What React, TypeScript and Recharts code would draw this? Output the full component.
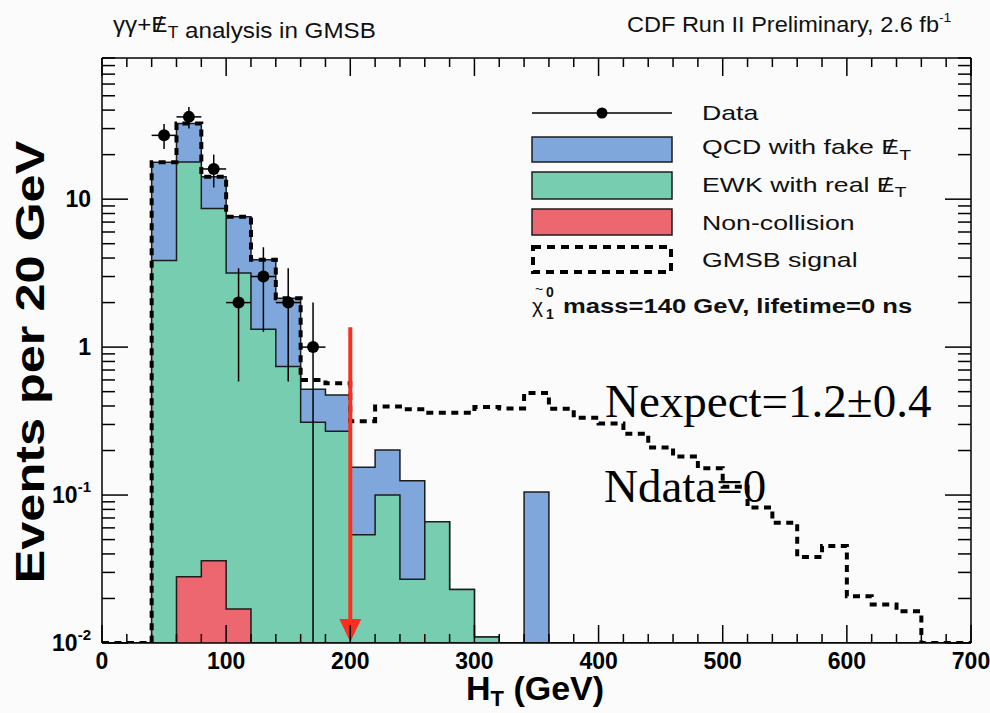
import React from 'react';
import {
  ComposedChart, Area, Line, Scatter, XAxis, YAxis, ErrorBar,
  ReferenceLine, ReferenceDot,
} from 'recharts';

const FONT = '"Liberation Sans", Arial, Helvetica, sans-serif';
const SERIF = '"Liberation Serif", "Times New Roman", serif';

const BLUE = '#7fa7dc';
const GREEN = '#77cdb0';
const RED = '#ed6770';
const ARROW = '#fe2d1e';
const EDGE = '#1c1c1c';

const YMIN = 0.01;
const YMAX = 90;
const BIN_WIDTH = 20;

// low edges of the 20 GeV bins in H_T
const BIN_LOW = [
  0, 20, 40, 60, 80, 100, 120, 140, 160, 180, 200, 220, 240, 260, 280, 300, 320, 340,
  360, 380, 400, 420, 440, 460, 480, 500, 520, 540, 560, 580, 600, 620, 640, 660, 680,
];

// background components (events per bin)
const NONCOLL = [
  0, 0, 0, 0.028, 0.036, 0.017, 0, 0, 0, 0, 0, 0, 0, 0, 0, 0, 0, 0,
  0, 0, 0, 0, 0, 0, 0, 0, 0, 0, 0, 0, 0, 0, 0, 0, 0,
];
const EWK = [
  0, 0, 3.85, 17.8, 8.6, 3.15, 1.32, 0.74, 0.31, 0.27, 0.054, 0.1, 0.027, 0.066, 0.023, 0.011, 0, 0,
  0, 0, 0, 0, 0, 0, 0, 0, 0, 0, 0, 0, 0, 0, 0, 0, 0,
];
const QCD = [
  0, 0, 13.95, 14.7, 5.55, 4.43, 2.58, 1.4, 0.21, 0.205, 0.1, 0.102, 0.098, 0, 0, 0, 0, 0.105,
  0, 0, 0, 0, 0, 0, 0, 0, 0, 0, 0, 0, 0, 0, 0, 0, 0,
];
// GMSB signal drawn on top of the background (dashed histogram)
const SIGNAL_TOTAL = [
  0, 0, 17.8, 32.5, 14.2, 7.6, 3.9, 2.14, 0.6, 0.57, 0.316, 0.397, 0.38, 0.36, 0.36, 0.394, 0.385, 0.49,
  0.383, 0.333, 0.305, 0.26, 0.21, 0.182, 0.152, 0.114, 0.0824, 0.065, 0.0381, 0.0453, 0.0207, 0.0182, 0.0164, 0, 0,
];

// data points (bin centres, counts)
const DATA_HT = [50, 70, 90, 110, 130, 150, 170];
const DATA_N = [27, 36, 16, 2, 3, 2, 1];

const CUT_HT = 200;
const CUT_TOP = 1.36;

const X_TICKS = Array.from({ length: 36 }, (_, i) => i * 20);
const Y_TICKS: number[] = [];
for (const d of [0.01, 0.1, 1, 10]) for (let m = 1; m <= 9; m++) if (d * m <= YMAX) Y_TICKS.push(+(d * m).toPrecision(3));

const clampY = (v: number) => Math.max(v, YMIN);

const histRows = BIN_LOW.map((x, i) => {
  const nc = NONCOLL[i];
  const ew = nc + EWK[i];
  const qc = ew + QCD[i];
  return { x, nc: clampY(nc), ewk: clampY(ew), qcd: clampY(qc), sig: clampY(SIGNAL_TOTAL[i]) };
});
histRows.push({ ...histRows[histRows.length - 1], x: BIN_LOW[BIN_LOW.length - 1] + BIN_WIDTH });

const dataPts = DATA_HT.map((x, i) => {
  const n = DATA_N[i];
  const e = Math.sqrt(n);
  return { x, n, ex: BIN_WIDTH / 2, ey: [Math.min(e, n - YMIN), e] };
});

const isDecade = (v: number) => Math.abs(Math.log10(v) - Math.round(Math.log10(v))) < 1e-6;

const XTickBottom = (props: any) => {
  const { x, y, payload } = props;
  const v = payload.value;
  const major = v % 100 === 0;
  return (
    <g>
      <line x1={x} x2={x} y1={y} y2={y - (major ? 18 : 9)} stroke="#000" strokeWidth={1.5} />
      {major && (
        <text x={x} y={y + 26} textAnchor="middle" fontFamily={FONT} fontWeight="bold" fontSize={23} fill="#000">
          {v}
        </text>
      )}
    </g>
  );
};

const XTickTop = (props: any) => {
  const { x, y, payload } = props;
  const major = payload.value % 100 === 0;
  return <line x1={x} x2={x} y1={y} y2={y + (major ? 18 : 9)} stroke="#000" strokeWidth={1.5} />;
};

const YTickLeft = (props: any) => {
  const { x, y, payload } = props;
  const v = payload.value;
  const major = isDecade(v);
  const exp = Math.round(Math.log10(v));
  return (
    <g>
      <line x1={x} x2={x + (major ? 26 : 13)} y1={y} y2={y} stroke="#000" strokeWidth={1.5} />
      {major && (
        <text x={x - 11} y={y + 8} textAnchor="end" fontFamily={FONT} fontWeight="bold" fontSize={23} fill="#000">
          {exp === 0 ? '1' : '10'}
          {exp < 0 && <tspan dy={-11} fontSize={15}>{String(exp)}</tspan>}
        </text>
      )}
    </g>
  );
};

const YTickRight = (props: any) => {
  const { x, y, payload } = props;
  const major = isDecade(payload.value);
  return <line x1={x} x2={x - (major ? 26 : 13)} y1={y} y2={y} stroke="#000" strokeWidth={1.5} />;
};

// E with a slash and a T subscript (missing transverse energy)
const MetT = ({ fs }: { fs: number }) => (
  <>
    <tspan>E</tspan>
    <tspan dx={-fs * 0.47}>/</tspan>
    <tspan dx={fs * 0.2} dy={fs * 0.28} fontSize={fs * 0.72}>T</tspan>
    <tspan dy={-fs * 0.28}>{''}</tspan>
  </>
);

const Overlay = () => (
  <svg width={990} height={713} style={{ position: 'absolute', left: 0, top: 0, pointerEvents: 'none' }}>
    {/* titles */}
    <g transform="translate(113,32) scale(1.1,1)">
      <text fontFamily={FONT} fontSize={22} fill="#111">
        γγ+<MetT fs={22} /> analysis in GMSB
      </text>
    </g>
    <g transform="translate(627,32) scale(1.07,1)">
      <text fontFamily={FONT} fontSize={22} fill="#111">
        CDF Run II Preliminary, 2.6 fb<tspan dy={-10} fontSize={13}>-1</tspan>
      </text>
    </g>

    {/* legend */}
    <line x1={532} x2={672} y1={113} y2={113} stroke="#000" strokeWidth={1.5} />
    <circle cx={602} cy={113} r={5.5} fill="#000" />
    <rect x={532} y={137} width={140} height={25} fill={BLUE} stroke={EDGE} strokeWidth={1.5} />
    <rect x={532} y={172} width={140} height={27} fill={GREEN} stroke={EDGE} strokeWidth={1.5} />
    <rect x={532} y={209} width={140} height={26} fill={RED} stroke={EDGE} strokeWidth={1.5} />
    <rect x={533} y={247} width={138} height={25} fill="none" stroke="#000" strokeWidth={4} strokeDasharray="8 6" />
    {[
      { y: 120, t: 'Data' },
      { y: 154, t: 'QCD with fake ', met: true },
      { y: 191.5, t: 'EWK with real ', met: true },
      { y: 229.5, t: 'Non-collision' },
      { y: 266.5, t: 'GMSB signal' },
    ].map((r) => (
      <g key={r.t} transform={`translate(702,${r.y}) scale(1.27,1)`}>
        <text fontFamily={FONT} fontSize={21} fill="#111">
          {r.t}
          {r.met && <MetT fs={21} />}
        </text>
      </g>
    ))}
    <text x={532} y={313} fontFamily={FONT} fontSize={21} fill="#111">χ</text>
    <text x={535} y={294} fontFamily={FONT} fontSize={14} fill="#111">~</text>
    <text x={546} y={297} fontFamily={FONT} fontSize={14} fontWeight="bold" fill="#111">0</text>
    <text x={546} y={319} fontFamily={FONT} fontSize={14} fontWeight="bold" fill="#111">1</text>
    <g transform="translate(563,313) scale(1.22,1)">
      <text fontFamily={FONT} fontSize={21} fontWeight="bold" fill="#111">mass=140 GeV, lifetime=0 ns</text>
    </g>

    {/* annotations */}
    <text x={605} y={417} fontFamily={SERIF} fontSize={47} fill="#000">Nexpect=1.2±0.4</text>
    <text x={604} y={502} fontFamily={SERIF} fontSize={47} fill="#000">Ndata=0</text>

    {/* axis titles */}
    <text x={535} y={700} textAnchor="middle" fontFamily={FONT} fontWeight="bold" fontSize={34} fill="#000">
      H<tspan dy={6} fontSize={22}>T</tspan><tspan dy={-6}> (GeV)</tspan>
    </text>
    <g transform="translate(44,362) rotate(-90) scale(1.26,1)">
      <text textAnchor="middle" fontFamily={FONT} fontWeight="bold" fontSize={40} fill="#000">
        Events per 20 GeV
      </text>
    </g>
  </svg>
);

export default function App() {
  return (
    <div style={{ position: 'absolute', left: 0, top: 0, width: 990, height: 713, background: '#fbfbfb' }}>
      <ComposedChart width={990} height={713} data={histRows} margin={{ top: 57, right: 0, bottom: 0, left: 0 }}>
        <XAxis
          dataKey="x" type="number" domain={[0, 700]} ticks={X_TICKS} interval={0}
          height={70} tickSize={0} tickMargin={0} tick={<XTickBottom />}
          axisLine={{ stroke: '#000', strokeWidth: 1.5 }} allowDataOverflow
        />
        <XAxis
          xAxisId="top" orientation="top" dataKey="x" type="number" domain={[0, 700]} ticks={X_TICKS} interval={0}
          height={1} tickSize={0} tickMargin={0} tick={<XTickTop />}
          axisLine={{ stroke: '#000', strokeWidth: 1.5 }} allowDataOverflow
        />
        <YAxis
          type="number" scale="log" domain={[YMIN, YMAX]} ticks={Y_TICKS} interval={0} allowDataOverflow
          width={102} tickSize={0} tickMargin={0} tick={<YTickLeft />}
          axisLine={{ stroke: '#000', strokeWidth: 1.5 }}
        />
        <YAxis
          yAxisId="right" orientation="right" type="number" scale="log" domain={[YMIN, YMAX]} ticks={Y_TICKS}
          interval={0} allowDataOverflow width={19} tickSize={0} tickMargin={0} tick={<YTickRight />}
          axisLine={{ stroke: '#000', strokeWidth: 1.5 }}
        />
        <Area type="stepAfter" dataKey="qcd" baseValue={YMIN} fill={BLUE} fillOpacity={1} stroke={EDGE} strokeWidth={1.5} dot={false} activeDot={false} isAnimationActive={false} />
        <Area type="stepAfter" dataKey="ewk" baseValue={YMIN} fill={GREEN} fillOpacity={1} stroke={EDGE} strokeWidth={1.5} dot={false} activeDot={false} isAnimationActive={false} />
        <Area type="stepAfter" dataKey="nc" baseValue={YMIN} fill={RED} fillOpacity={1} stroke={EDGE} strokeWidth={1.5} dot={false} activeDot={false} isAnimationActive={false} />
        <Line type="stepAfter" dataKey="sig" stroke="#000" strokeWidth={4} strokeDasharray="7 5.5" dot={false} activeDot={false} isAnimationActive={false} />
        <Scatter
          data={dataPts} dataKey="n" fill="#000" isAnimationActive={false}
          shape={(p: any) => <circle cx={p.cx} cy={p.cy} r={6} fill="#000" />}
        >
          <ErrorBar dataKey="ex" direction="x" width={0} stroke="#000" strokeWidth={1.5} />
          <ErrorBar dataKey="ey" direction="y" width={0} stroke="#000" strokeWidth={1.5} />
        </Scatter>
        <ReferenceLine segment={[{ x: CUT_HT, y: CUT_TOP }, { x: CUT_HT, y: 0.014 }]} stroke={ARROW} strokeWidth={4} />
        <ReferenceDot
          x={CUT_HT} y={YMIN} r={0}
          shape={(p: any) => (
            <polygon points={`${p.cx - 11},${p.cy - 24} ${p.cx + 11},${p.cy - 24} ${p.cx},${p.cy - 1}`} fill={ARROW} />
          )}
        />
      </ComposedChart>
      <Overlay />
    </div>
  );
}
